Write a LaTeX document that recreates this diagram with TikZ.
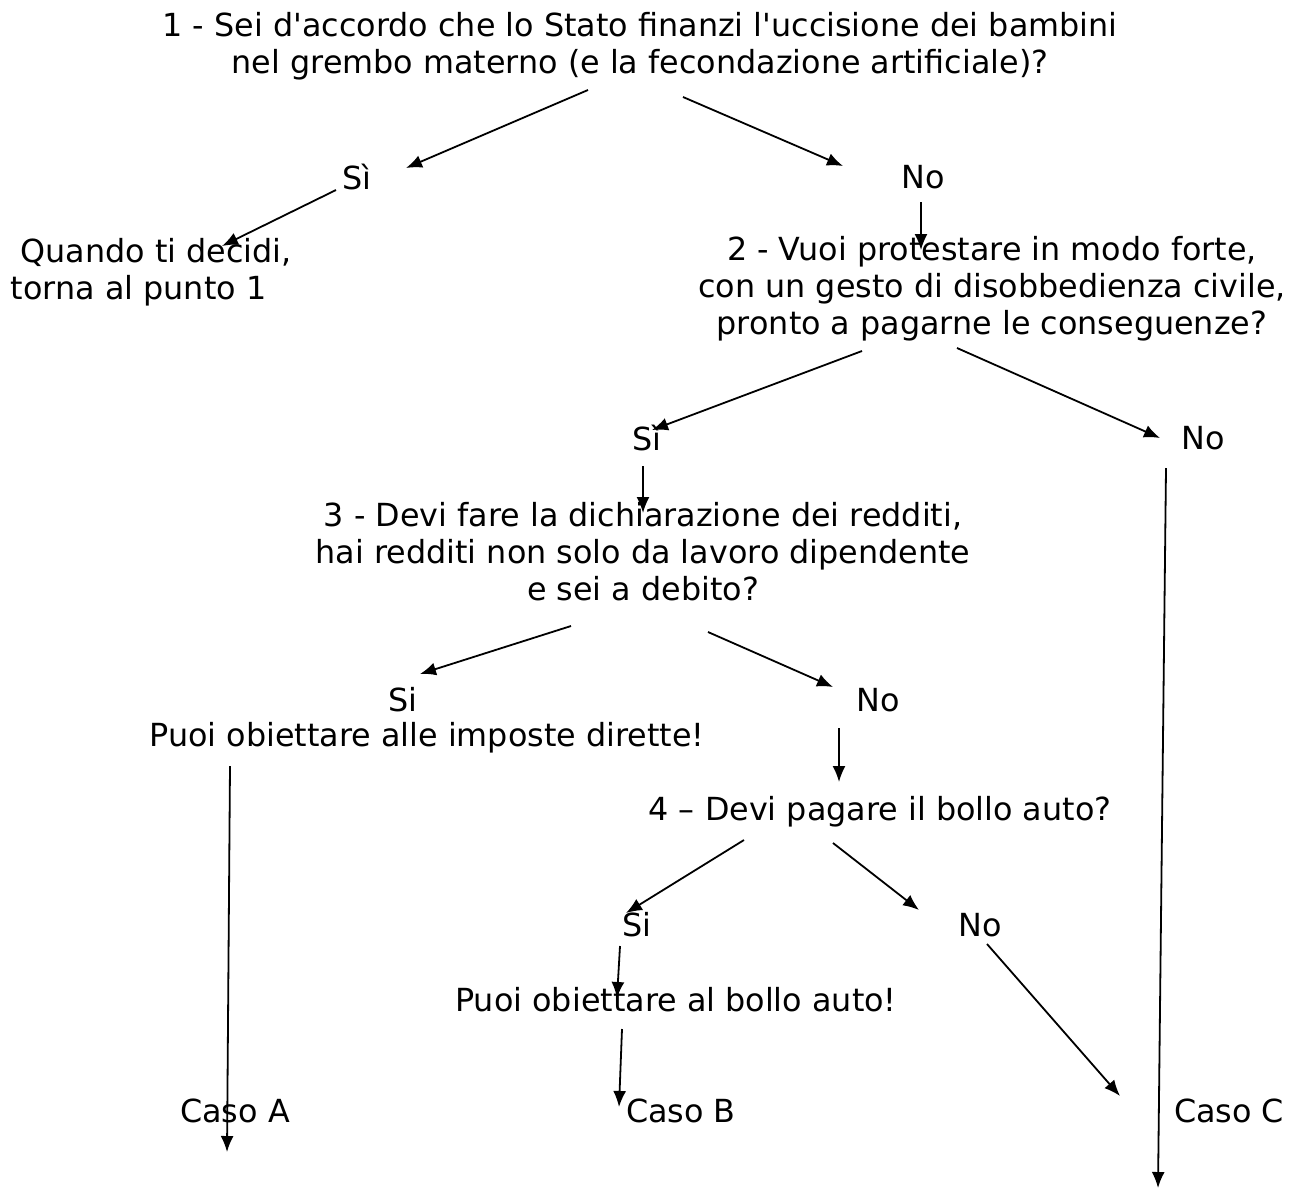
\documentclass[tikz,border=0pt]{standalone}
\usepackage{fontspec}
\setmainfont{DejaVu Sans}
\usetikzlibrary{arrows.meta}
\tikzset{txt/.style={inner sep=0pt, align=center, font=\fontsize{31.8}{37}\selectfont}}
\begin{document}
\begin{tikzpicture}[x=1pt, y=-1pt, >={Latex[length=16pt,width=13pt]}, line width=1.8pt]
\useasboundingbox (0,0) rectangle (1289,1189);
% domande
\node[txt] (q1) at (640,46) {1 - Sei d\textquotesingle accordo che lo Stato finanzi l\textquotesingle uccisione dei bambini\\nel grembo materno (e la fecondazione artificiale)?};
\node[txt] (q2) at (992,289) {2 - Vuoi protestare in modo forte,\\con un gesto di disobbedienza civile,\\pronto a pagarne le conseguenze?};
\node[txt] (q3) at (643,552) {3 - Devi fare la dichiarazione dei redditi,\\hai redditi non solo da lavoro dipendente\\e sei a debito?};
\node[txt] (q4) at (880,812) {4 -- Devi pagare il bollo auto?};
% risposte
\node[txt] (si1) at (357,177) {Sì};
\node[txt] (no1) at (923,177) {No};
\node[txt, align=left, anchor=west] (torna) at (10,272) {\hspace*{0.3em}Quando ti decidi,\\torna al punto 1};
\node[txt] (si2) at (647,438) {Sì};
\node[txt] (no2) at (1203,438) {No};
\node[txt] (si3) at (403,700) {Si};
\node[txt] (dirette) at (427,738) {Puoi obiettare alle imposte dirette!};
\node[txt] (no3) at (878,700) {No};
\node[txt] (si4) at (637,925) {Si};
\node[txt] (no4) at (980,925) {No};
\node[txt] (bollo) at (676,1000) {Puoi obiettare al bollo auto!};
\node[txt] (casoA) at (235,1111) {Caso A};
\node[txt] (casoB) at (681,1111) {Caso B};
\node[txt] (casoC) at (1229,1111) {Caso C};
% estremi delle frecce
\coordinate (q1l) at (588,90);   \coordinate (si1t) at (406,168);
\coordinate (q1r) at (683,97);   \coordinate (no1t) at (843,166);
\coordinate (si1b) at (336,190); \coordinate (tornat) at (222,246);
\coordinate (no1b) at (921,202); \coordinate (q2t) at (921,250);
\coordinate (q2l) at (862,351);  \coordinate (si2t) at (652,430);
\coordinate (q2r) at (957,348);  \coordinate (no2t) at (1160,438);
\coordinate (si2b) at (643,466); \coordinate (q3t) at (643,513);
\coordinate (no2b) at (1166,468); \coordinate (fineC) at (1158,1188);
\coordinate (q3l) at (571,626);  \coordinate (si3t) at (420,674);
\coordinate (q3r) at (708,632);  \coordinate (no3t) at (833,687);
\coordinate (direttb) at (230,766); \coordinate (fineA) at (227,1152);
\coordinate (no3b) at (839,728); \coordinate (q4t) at (839,782);
\coordinate (q4l) at (744,840);  \coordinate (si4t) at (626,913);
\coordinate (q4r) at (833,843);  \coordinate (no4t) at (919,910);
\coordinate (si4b) at (620,946); \coordinate (bollot) at (617,998);
\coordinate (no4b) at (987,944); \coordinate (casoCt) at (1120,1096);
\coordinate (bollob) at (622,1029); \coordinate (casoBt) at (619,1107);
% frecce
\draw[->] (q1l)--(si1t);
\draw[->] (q1r)--(no1t);
\draw[->] (si1b)--(tornat);
\draw[->] (no1b)--(q2t);
\draw[->] (q2l)--(si2t);
\draw[->] (q2r)--(no2t);
\draw[->] (si2b)--(q3t);
\draw[->] (no2b)--(fineC);
\draw[->] (q3l)--(si3t);
\draw[->] (q3r)--(no3t);
\draw[->] (direttb)--(fineA);
\draw[->] (no3b)--(q4t);
\draw[->] (q4l)--(si4t);
\draw[->] (q4r)--(no4t);
\draw[->] (si4b)--(bollot);
\draw[->] (no4b)--(casoCt);
\draw[->] (bollob)--(casoBt);
\end{tikzpicture}
\end{document}
